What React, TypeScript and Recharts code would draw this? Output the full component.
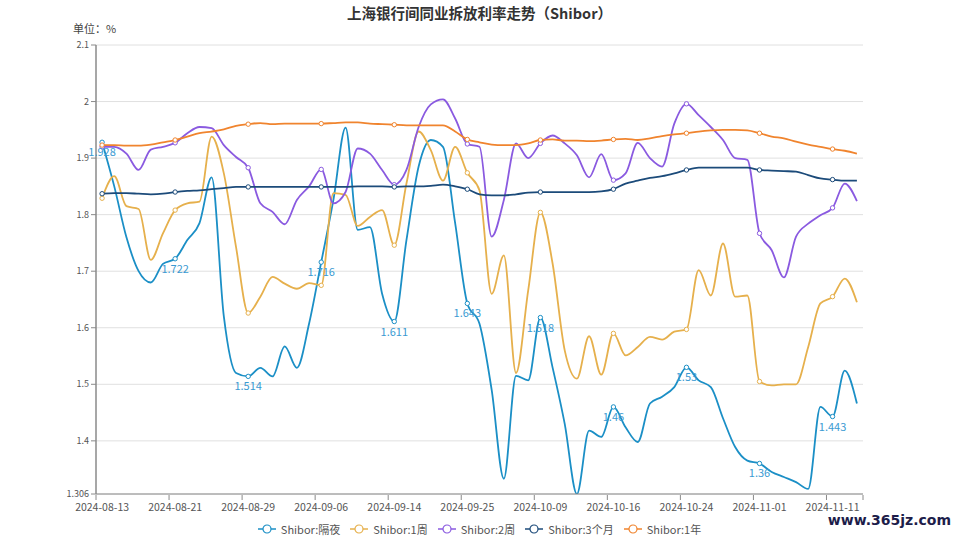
import React from "react";
import {
  LineChart,
  Line,
  XAxis,
  YAxis,
  CartesianGrid,
  LabelList,
} from "recharts";

// Shibor fixings, working days 2024-08-13 .. 2024-11-13 (values in %)
const DATES = [
  "2024-08-13", "2024-08-14", "2024-08-15", "2024-08-16", "2024-08-19", "2024-08-20", "2024-08-21",
  "2024-08-22", "2024-08-23", "2024-08-26", "2024-08-27", "2024-08-28", "2024-08-29", "2024-08-30",
  "2024-09-02", "2024-09-03", "2024-09-04", "2024-09-05", "2024-09-06", "2024-09-09", "2024-09-10",
  "2024-09-11", "2024-09-12", "2024-09-13", "2024-09-14", "2024-09-18", "2024-09-19", "2024-09-20",
  "2024-09-23", "2024-09-24", "2024-09-25", "2024-09-26", "2024-09-27", "2024-09-29", "2024-09-30",
  "2024-10-08", "2024-10-09", "2024-10-10", "2024-10-11", "2024-10-12", "2024-10-14", "2024-10-15",
  "2024-10-16", "2024-10-17", "2024-10-18", "2024-10-21", "2024-10-22", "2024-10-23", "2024-10-24",
  "2024-10-25", "2024-10-28", "2024-10-29", "2024-10-30", "2024-10-31", "2024-11-01", "2024-11-04",
  "2024-11-05", "2024-11-06", "2024-11-07", "2024-11-08", "2024-11-11", "2024-11-12", "2024-11-13",
];

const OVERNIGHT = [
  1.928, 1.85, 1.76, 1.70, 1.68, 1.713, 1.722, 1.755, 1.785, 1.866,
  1.62, 1.52, 1.514, 1.529, 1.514, 1.567, 1.529, 1.607, 1.716, 1.826,
  1.954, 1.773, 1.778, 1.66, 1.611, 1.755, 1.885, 1.932, 1.92, 1.785,
  1.643, 1.607, 1.49, 1.333, 1.515, 1.507, 1.618, 1.53, 1.43, 1.306,
  1.418, 1.407, 1.46, 1.424, 1.398, 1.466, 1.478, 1.495, 1.53, 1.507,
  1.495, 1.44, 1.389, 1.365, 1.36, 1.345, 1.336, 1.327, 1.315, 1.46,
  1.443, 1.524, 1.466,
];

const WEEK1 = [
  1.829, 1.868, 1.815, 1.81, 1.72, 1.767, 1.808, 1.82, 1.823, 1.938,
  1.873, 1.743, 1.626, 1.655, 1.69, 1.678, 1.669, 1.679, 1.675, 1.838,
  1.835, 1.78, 1.796, 1.808, 1.746, 1.855, 1.947, 1.914, 1.86, 1.92,
  1.874, 1.843, 1.66, 1.728, 1.52, 1.666, 1.804, 1.714, 1.56, 1.51,
  1.585, 1.517, 1.59, 1.551, 1.566, 1.584, 1.579, 1.593, 1.597, 1.702,
  1.657, 1.749, 1.655, 1.657, 1.505, 1.498, 1.5, 1.5, 1.566, 1.643,
  1.655, 1.687, 1.645,
];

const WEEK2 = [
  1.92, 1.92, 1.908, 1.879, 1.915, 1.92, 1.927, 1.944, 1.955, 1.953,
  1.923, 1.902, 1.883, 1.82, 1.805, 1.783, 1.826, 1.85, 1.88, 1.82,
  1.84, 1.917, 1.908, 1.879, 1.853, 1.879, 1.955, 1.995, 2.004, 1.97,
  1.925, 1.92, 1.761, 1.826, 1.926, 1.9, 1.926, 1.94, 1.926, 1.905,
  1.866, 1.907, 1.861, 1.873, 1.927, 1.9, 1.885, 1.961, 1.996, 1.976,
  1.955, 1.932, 1.9, 1.897, 1.767, 1.737, 1.689, 1.761, 1.784, 1.799,
  1.812, 1.855, 1.824,
];

const MONTH3 = [
  1.837, 1.838, 1.838, 1.837, 1.836, 1.837, 1.84, 1.842, 1.843, 1.845,
  1.847, 1.849, 1.849, 1.849, 1.849, 1.849, 1.849, 1.849, 1.849, 1.849,
  1.849, 1.85, 1.85, 1.85, 1.849, 1.85, 1.85, 1.851, 1.853, 1.85,
  1.845, 1.836, 1.834, 1.834, 1.836, 1.839, 1.84, 1.84, 1.84, 1.84,
  1.84, 1.841, 1.845, 1.855, 1.86, 1.865, 1.868, 1.873, 1.879, 1.883,
  1.883, 1.883, 1.883, 1.883, 1.879, 1.878, 1.877, 1.876, 1.87, 1.864,
  1.862, 1.86, 1.86,
];

const YEAR1 = [
  1.923, 1.923, 1.922, 1.922, 1.924, 1.928, 1.932, 1.938, 1.944, 1.947,
  1.951, 1.957, 1.96, 1.962, 1.96, 1.961, 1.961, 1.961, 1.961, 1.962,
  1.963, 1.963, 1.961, 1.96, 1.959, 1.958, 1.958, 1.958, 1.958, 1.947,
  1.933, 1.928, 1.924, 1.923, 1.923, 1.926, 1.932, 1.933, 1.931, 1.931,
  1.93, 1.931, 1.933, 1.934, 1.932, 1.935, 1.939, 1.942, 1.944, 1.947,
  1.949, 1.95, 1.95, 1.949, 1.944, 1.938, 1.935, 1.929, 1.924, 1.92,
  1.916, 1.913, 1.908,
];

const Y_TICKS = [1.306, 1.4, 1.5, 1.6, 1.7, 1.8, 1.9, 2, 2.1];
const X_TICKS = [0, 6, 12, 18, 24, 30, 36, 42, 48, 54, 60];

const SERIES = [
  { key: "on", name: "Shibor:隔夜", color: "#1b8fc6", values: OVERNIGHT },
  { key: "w1", name: "Shibor:1周", color: "#e6b04c", values: WEEK1 },
  { key: "w2", name: "Shibor:2周", color: "#8a5ae0", values: WEEK2 },
  { key: "m3", name: "Shibor:3个月", color: "#1c4b7a", values: MONTH3 },
  { key: "y1", name: "Shibor:1年", color: "#f0842e", values: YEAR1 },
];

const rows = DATES.map((date, i) => {
  const row: Record<string, number | string> = { idx: i, date };
  SERIES.forEach((s) => (row[s.key] = s.values[i]));
  return row;
});

const W = 959;
const H = 539;
const FONT = "'Noto Sans CJK SC', 'Noto Sans', sans-serif";
const PLOT_LEFT = 96;
const PLOT_RIGHT = 863;
const HALF_BAND = (PLOT_RIGHT - PLOT_LEFT) / DATES.length / 2;

const makeDot = (color: string) => (props: any) => {
  const { cx, cy, index } = props;
  if (index % 6 !== 0 || cx == null) return <g key={`d-${index}`} />;
  return (
    <circle key={`d-${index}`} cx={cx} cy={cy} r={2.2} fill="#fff" stroke={color} strokeWidth={1} />
  );
};

// ECharts-style category ticks: mark sits on the band edge, label on the band centre
const XTick = (props: any) => {
  const { x, y, payload } = props;
  const top = y - 7;
  return (
    <g>
      <line x1={x - HALF_BAND} x2={x - HALF_BAND} y1={top} y2={top + 5} stroke="#8a8a8a" />
      {payload.value === 60 && (
        <line x1={x + HALF_BAND * 5} x2={x + HALF_BAND * 5} y1={top} y2={top + 5} stroke="#8a8a8a" />
      )}
      <text x={x} y={y + 9} textAnchor="middle" fontSize={10.5} fill="#555" fontFamily={FONT}>
        {DATES[payload.value]}
      </text>
    </g>
  );
};

const OnLabel = (props: any) => {
  const { x, y, value, index } = props;
  if (index % 6 !== 0) return null;
  return (
    <text x={x} y={y + 14} textAnchor="middle" fontSize={11} fill="#3a9ad2" fontFamily={FONT}>
      {value}
    </text>
  );
};

function LegendIcon({ color }: { color: string }) {
  return (
    <svg width={18} height={10} style={{ display: "block" }}>
      <line x1={0} x2={18} y1={5} y2={5} stroke={color} strokeWidth={1.5} />
      <circle cx={9} cy={5} r={4} fill="#fff" stroke={color} strokeWidth={1.2} />
    </svg>
  );
}

export default function App() {
  return (
    <div
      style={{
        position: "absolute",
        left: 0,
        top: 0,
        width: W,
        height: H,
        background: "#fff",
        fontFamily: FONT,
      }}
    >
      <div
        style={{
          position: "absolute",
          top: 2,
          width: W,
          textAlign: "center",
          fontSize: 14.5,
          fontWeight: 700,
          color: "#333",
        }}
      >
        上海银行间同业拆放利率走势（Shibor）
      </div>
      <div style={{ position: "absolute", left: 73, top: 20, fontSize: 11, color: "#444" }}>
        单位：%
      </div>

      <LineChart
        width={W}
        height={H}
        data={rows}
        margin={{ top: 45, right: W - PLOT_RIGHT, bottom: 15, left: 0 }}
      >
        <CartesianGrid vertical={false} stroke="#e0e0e0" />
        <XAxis
          dataKey="idx"
          type="number"
          domain={[-0.5, DATES.length - 0.5]}
          ticks={X_TICKS}
          interval={0}
          height={30}
          tickLine={false}
          axisLine={{ stroke: "#8a8a8a" }}
          tick={<XTick />}
        />
        <YAxis
          width={PLOT_LEFT}
          domain={[1.306, 2.1]}
          ticks={Y_TICKS}
          interval={0}
          allowDataOverflow
          axisLine={{ stroke: "#8a8a8a", strokeWidth: 1.5 }}
          tickLine={{ stroke: "#8a8a8a" }}
          tickSize={5}
          tick={{ fontSize: 9, fill: "#555", fontFamily: FONT }}
        />
        {SERIES.map((s) => (
          <Line
            key={s.key}
            type="monotone"
            dataKey={s.key}
            name={s.name}
            stroke={s.color}
            strokeWidth={1.8}
            dot={makeDot(s.color)}
            activeDot={false}
            isAnimationActive={false}
          >
            {s.key === "on" && <LabelList dataKey="on" content={<OnLabel />} />}
          </Line>
        ))}
      </LineChart>

      <div
        style={{
          position: "absolute",
          top: 521,
          width: W,
          display: "flex",
          justifyContent: "center",
          gap: 10,
          fontSize: 11,
          color: "#555",
        }}
      >
        {SERIES.map((s) => (
          <div key={s.key} style={{ display: "flex", alignItems: "center", gap: 5 }}>
            <LegendIcon color={s.color} />
            <span>{s.name}</span>
          </div>
        ))}
      </div>

      <div
        style={{
          position: "absolute",
          right: 8,
          top: 512,
          fontSize: 14,
          fontWeight: 700,
          color: "#1d1d4a",
          fontFamily: "'DejaVu Sans', sans-serif",
        }}
      >
        www.365jz.com
      </div>
    </div>
  );
}
